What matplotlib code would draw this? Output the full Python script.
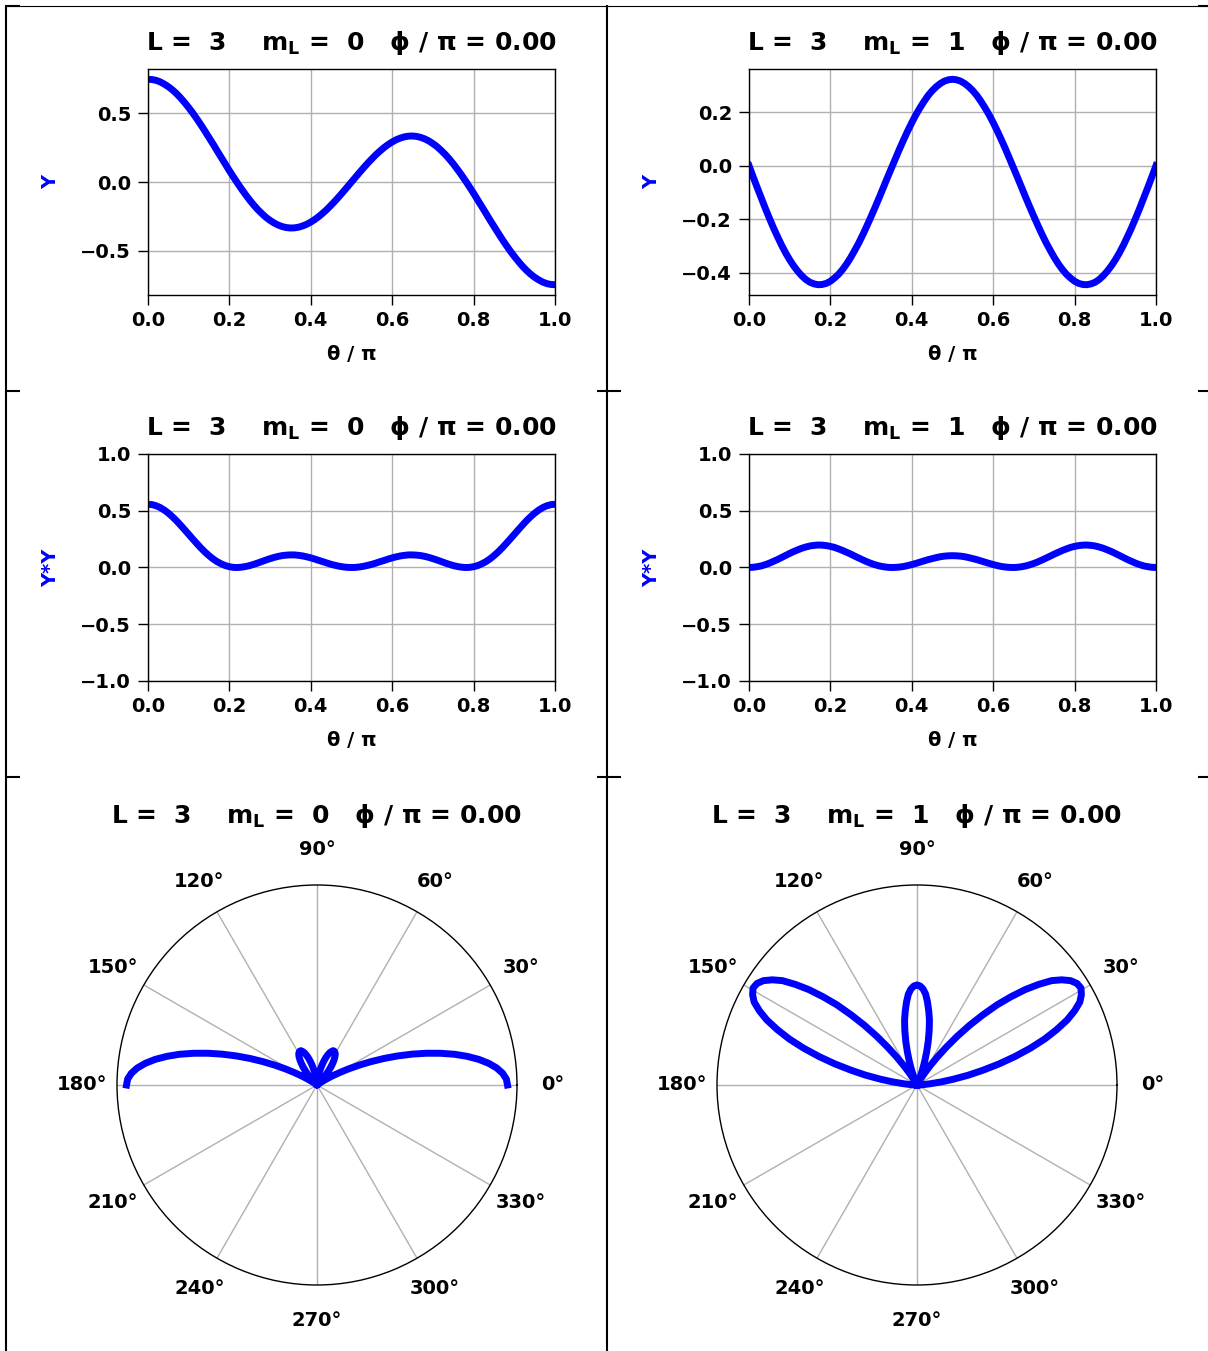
import numpy as np
import matplotlib
matplotlib.use('Agg')
import matplotlib.pyplot as plt
from matplotlib.lines import Line2D

W, H = 1208, 1351

# theta / pi sample positions
theta_pi = [0.00, 0.01, 0.02, 0.03, 0.04, 0.05, 0.06, 0.07, 0.08, 0.09,
            0.10, 0.11, 0.12, 0.13, 0.14, 0.15, 0.16, 0.17, 0.18, 0.19,
            0.20, 0.21, 0.22, 0.23, 0.24, 0.25, 0.26, 0.27, 0.28, 0.29,
            0.30, 0.31, 0.32, 0.33, 0.34, 0.35, 0.36, 0.37, 0.38, 0.39,
            0.40, 0.41, 0.42, 0.43, 0.44, 0.45, 0.46, 0.47, 0.48, 0.49,
            0.50, 0.51, 0.52, 0.53, 0.54, 0.55, 0.56, 0.57, 0.58, 0.59,
            0.60, 0.61, 0.62, 0.63, 0.64, 0.65, 0.66, 0.67, 0.68, 0.69,
            0.70, 0.71, 0.72, 0.73, 0.74, 0.75, 0.76, 0.77, 0.78, 0.79,
            0.80, 0.81, 0.82, 0.83, 0.84, 0.85, 0.86, 0.87, 0.88, 0.89,
            0.90, 0.91, 0.92, 0.93, 0.94, 0.95, 0.96, 0.97, 0.98, 0.99, 1.00]

# L = 3, mL = 0
Y_m0 = [0.746, 0.744, 0.738, 0.727, 0.711, 0.692, 0.669, 0.642, 0.611, 0.577,
        0.540, 0.501, 0.459, 0.415, 0.369, 0.322, 0.275, 0.226, 0.178, 0.130,
        0.082, 0.036, -0.009, -0.052, -0.093, -0.132, -0.168, -0.201, -0.230, -0.257,
        -0.279, -0.298, -0.313, -0.324, -0.331, -0.334, -0.333, -0.328, -0.319, -0.307,
        -0.291, -0.272, -0.250, -0.225, -0.198, -0.168, -0.137, -0.104, -0.070, -0.035,
        0.000, 0.035, 0.070, 0.104, 0.137, 0.168, 0.198, 0.225, 0.250, 0.272,
        0.291, 0.307, 0.319, 0.328, 0.333, 0.334, 0.331, 0.324, 0.313, 0.298,
        0.279, 0.257, 0.230, 0.201, 0.168, 0.132, 0.093, 0.052, 0.009, -0.036,
        -0.082, -0.130, -0.178, -0.226, -0.275, -0.322, -0.369, -0.415, -0.459, -0.501,
        -0.540, -0.577, -0.611, -0.642, -0.669, -0.692, -0.711, -0.727, -0.738, -0.744, -0.746]
YY_m0 = [0.557, 0.554, 0.544, 0.528, 0.506, 0.479, 0.447, 0.412, 0.373, 0.333,
         0.292, 0.251, 0.211, 0.172, 0.136, 0.104, 0.075, 0.051, 0.032, 0.017,
         0.007, 0.001, 0.000, 0.003, 0.009, 0.017, 0.028, 0.040, 0.053, 0.066,
         0.078, 0.089, 0.098, 0.105, 0.109, 0.111, 0.111, 0.107, 0.102, 0.094,
         0.085, 0.074, 0.062, 0.051, 0.039, 0.028, 0.019, 0.011, 0.005, 0.001,
         0.000, 0.001, 0.005, 0.011, 0.019, 0.028, 0.039, 0.051, 0.062, 0.074,
         0.085, 0.094, 0.102, 0.107, 0.111, 0.111, 0.109, 0.105, 0.098, 0.089,
         0.078, 0.066, 0.053, 0.040, 0.028, 0.017, 0.009, 0.003, 0.000, 0.001,
         0.007, 0.017, 0.032, 0.051, 0.075, 0.104, 0.136, 0.172, 0.211, 0.251,
         0.292, 0.333, 0.373, 0.412, 0.447, 0.479, 0.506, 0.528, 0.544, 0.554, 0.557]

# L = 3, mL = 1
Y_m1 = [0.000, -0.041, -0.081, -0.120, -0.159, -0.196, -0.232, -0.265, -0.297, -0.326,
        -0.352, -0.375, -0.395, -0.412, -0.426, -0.436, -0.442, -0.445, -0.444, -0.440,
        -0.432, -0.420, -0.406, -0.388, -0.367, -0.343, -0.316, -0.288, -0.257, -0.224,
        -0.190, -0.155, -0.119, -0.082, -0.045, -0.009, 0.027, 0.063, 0.097, 0.130,
        0.161, 0.190, 0.216, 0.240, 0.262, 0.280, 0.295, 0.307, 0.316, 0.321,
        0.323, 0.321, 0.316, 0.307, 0.295, 0.280, 0.262, 0.240, 0.216, 0.190,
        0.161, 0.130, 0.097, 0.063, 0.027, -0.009, -0.045, -0.082, -0.119, -0.155,
        -0.190, -0.224, -0.257, -0.288, -0.316, -0.343, -0.367, -0.388, -0.406, -0.420,
        -0.432, -0.440, -0.444, -0.445, -0.442, -0.436, -0.426, -0.412, -0.395, -0.375,
        -0.352, -0.326, -0.297, -0.265, -0.232, -0.196, -0.159, -0.120, -0.081, -0.041, 0.000]
YY_m1 = [0.000, 0.002, 0.007, 0.014, 0.025, 0.038, 0.054, 0.070, 0.088, 0.106,
         0.124, 0.141, 0.156, 0.170, 0.181, 0.190, 0.195, 0.198, 0.197, 0.193,
         0.186, 0.177, 0.164, 0.150, 0.134, 0.118, 0.100, 0.083, 0.066, 0.050,
         0.036, 0.024, 0.014, 0.007, 0.002, 0.000, 0.001, 0.004, 0.009, 0.017,
         0.026, 0.036, 0.047, 0.058, 0.069, 0.078, 0.087, 0.095, 0.100, 0.103,
         0.104, 0.103, 0.100, 0.095, 0.087, 0.078, 0.069, 0.058, 0.047, 0.036,
         0.026, 0.017, 0.009, 0.004, 0.001, 0.000, 0.002, 0.007, 0.014, 0.024,
         0.036, 0.050, 0.066, 0.083, 0.100, 0.118, 0.134, 0.150, 0.164, 0.177,
         0.186, 0.193, 0.197, 0.198, 0.195, 0.190, 0.181, 0.170, 0.156, 0.141,
         0.124, 0.106, 0.088, 0.070, 0.054, 0.038, 0.025, 0.014, 0.007, 0.002, 0.000]

L = 3
mL_list = [0, 1]
phi = 0.00

plt.rcParams['font.family'] = 'DejaVu Sans'
plt.rcParams['font.weight'] = 'bold'
plt.rcParams['axes.labelweight'] = 'bold'
plt.rcParams['mathtext.default'] = 'regular'

TICK = 14
TITLE = 18
LW = 5


def box(x0, y0, x1, y1):
    return [x0 / W, 1 - y1 / H, (x1 - x0) / W, (y1 - y0) / H]


def title_text(m):
    return f'L =  {L}    m$_L$ =  {m}   ϕ / π = {phi:.2f}'


def cart(ax, y, ylabel, m, ylim=None):
    ax.plot(theta_pi, y, color='blue', lw=LW)
    ax.set_xlim(0, 1)
    if ylim is not None:
        ax.set_ylim(ylim)
    ax.grid(True, color='#b0b0b0', lw=1.0)
    ax.tick_params(length=7.2, width=1.0, labelsize=TICK, pad=4)
    ax.tick_params(axis='y', pad=5)
    for lab in ax.get_xticklabels() + ax.get_yticklabels():
        lab.set_fontweight('bold')
    ax.set_xlabel('θ / π', fontsize=TICK)
    ax.xaxis.set_label_coords(0.5, -0.22)
    ax.set_ylabel(ylabel, color='blue', fontsize=TICK)
    ax.yaxis.set_label_coords(-0.216, 0.5)
    for s in ax.spines.values():
        s.set_linewidth(1.0)
    ax.text(0.5, 1.082, title_text(m), transform=ax.transAxes, ha='center',
            va='baseline', fontsize=TITLE, fontweight='bold')


def polar(ax, yy, m):
    th = np.array(theta_pi) * np.pi
    ax.plot(th, yy, color='blue', lw=LW)
    ax.set_rmax(1.05 * max(yy))
    ax.set_rmin(0)
    ax.set_yticks([])
    ax.set_thetagrids(range(0, 360, 30))
    ax.grid(True, color='#b0b0b0', lw=1.0)
    ax.tick_params(labelsize=TICK, pad=15)
    for lab in ax.get_xticklabels():
        lab.set_fontweight('bold')
    ax.spines['polar'].set_linewidth(1.0)
    ax.text(0.5, 1.155, title_text(m), transform=ax.transAxes, ha='center',
            va='baseline', fontsize=TITLE, fontweight='bold')


fig = plt.figure(figsize=(W / 100, H / 100), dpi=100)

# table borders
def seg(x0, y0, x1, y1, lw):
    fig.add_artist(Line2D([x0 / W, x1 / W], [1 - y0 / H, 1 - y1 / H],
                          transform=fig.transFigure, color='black', lw=lw,
                          solid_capstyle='butt'))

seg(6, 5, 6, H, 1.5)
seg(607, 5, 607, H, 1.5)
seg(5, 5.5, W, 5.5, 0.8)
seg(5, 6, 20, 6, 1.5)
seg(1198, 6, W, 6, 1.5)
for yy in [391, 777]:
    seg(5, yy, 20, yy, 1.5)
    seg(597, yy, 621, yy, 1.5)
    seg(1198, yy, W, yy, 1.5)

lefts = [148, 749]
Ys = [Y_m0, Y_m1]
YYs = [YY_m0, YY_m1]
for i, m in enumerate(mL_list):
    x0 = lefts[i]
    ax1 = fig.add_axes(box(x0, 69, x0 + 407, 295))
    cart(ax1, Ys[i], 'Y', m)
    ax2 = fig.add_axes(box(x0, 454, x0 + 407, 681))
    cart(ax2, YYs[i], 'Y*Y', m, ylim=(-1, 1))
    c = 317 + 600 * i
    ax3 = fig.add_axes(box(c - 200, 885, c + 200, 1285), projection='polar')
    polar(ax3, YYs[i], m)

fig.savefig('out.png', dpi=100)
